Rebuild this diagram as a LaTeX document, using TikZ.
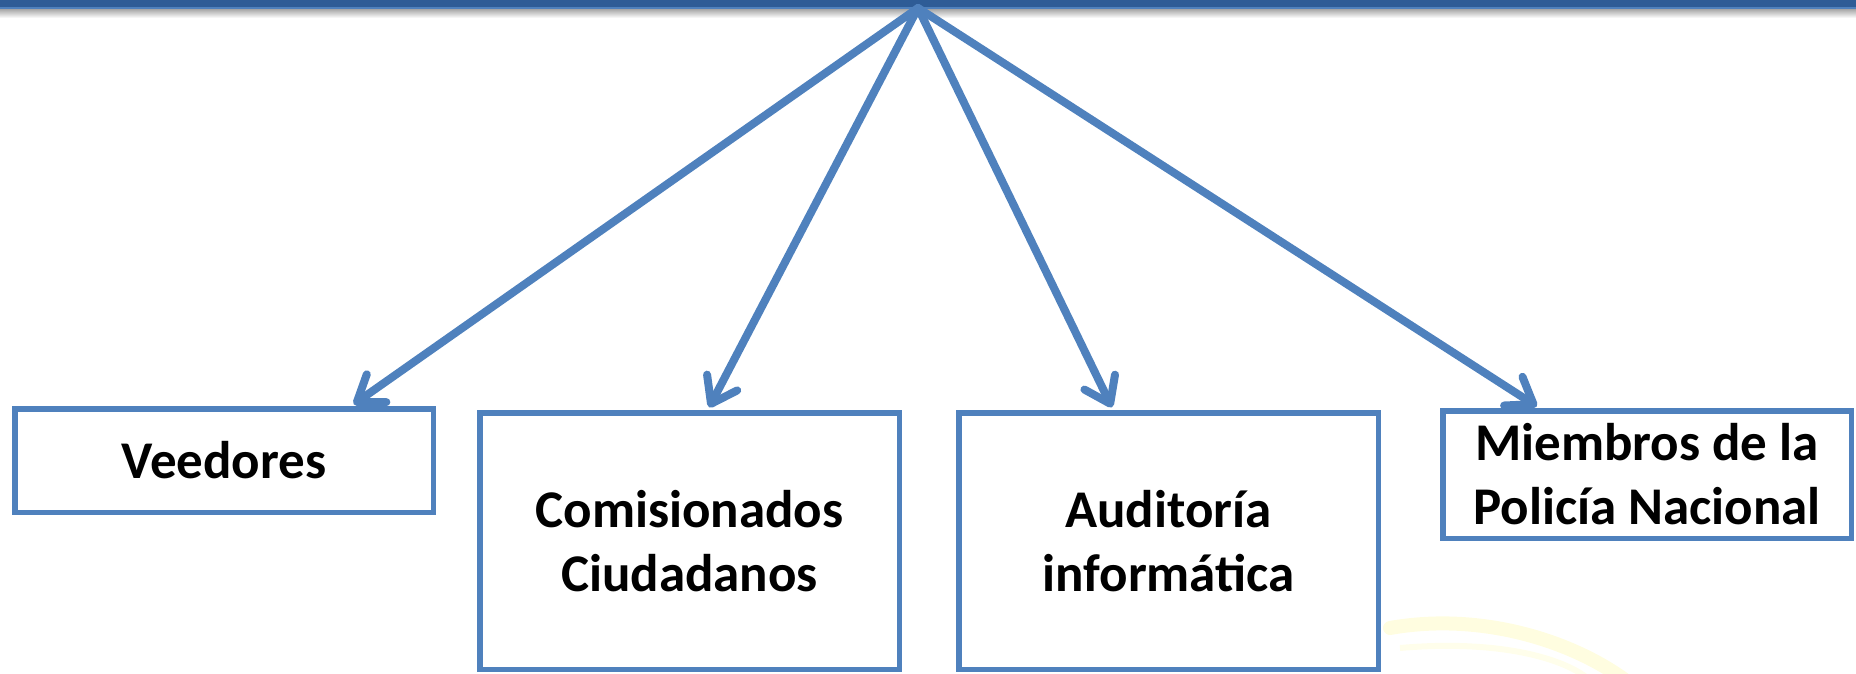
\documentclass[tikz,border=0pt]{standalone}
\usepackage{fontspec}
\setmainfont{Carlito}
\definecolor{linkblue}{RGB}{79,129,189}
\definecolor{barblue}{RGB}{46,92,150}
\usetikzlibrary{arrows.meta, calc, positioning}
\tikzset{
  boxnode/.style={draw=linkblue, line width=5.5pt, rectangle, inner sep=0pt,
    align=center, font=\fontsize{53}{64}\selectfont\bfseries},
  link/.style={draw=linkblue, line width=8pt, line cap=round,
    -{Straight Barb[length=24pt,width=34pt,round]}, shorten >=3pt}
}
\begin{document}
\begin{tikzpicture}[x=1pt,y=-1pt]
\useasboundingbox (0,0) rectangle (1856,674);
% faint swirl of the slide background
\draw[yellow!12, line width=14pt, line cap=round] (1390,628) .. controls (1480,612) and (1570,640) .. (1625,680);
\draw[yellow!8, line width=6pt] (1400,648) .. controls (1490,640) and (1560,655) .. (1590,680);
% bar at the top
\shade[top color=black!35, bottom color=white] (0,9) rectangle (1856,18);
\fill[barblue] (0,0) rectangle (1856,7.5);
\fill[linkblue] (0,7.5) rectangle (1856,9.5);
\coordinate (apex) at (918,8);
% boxes
\node[boxnode, minimum width=418.5pt, minimum height=103.5pt] (veedores) at (224,460.5) {Veedores};
\node[boxnode, minimum width=419.5pt, minimum height=256.5pt] (comisionados) at (689.5,541) {Comisionados\\Ciudadanos};
\node[boxnode, minimum width=419.5pt, minimum height=256.5pt] (auditoria) at (1168.5,541) {Auditoría\\informática};
\node[boxnode, minimum width=408.5pt, minimum height=127.5pt] (policia) at (1647,474.5) {Miembros de la\\Policía Nacional};
% arrows
\foreach \N/\F in {veedores/0.8, comisionados/0.543, auditoria/0.37, policia/0.24}
{\draw[link] (apex) -- ($(\N.north west)!\F!(\N.north east)$);}
\end{tikzpicture}
\end{document}
